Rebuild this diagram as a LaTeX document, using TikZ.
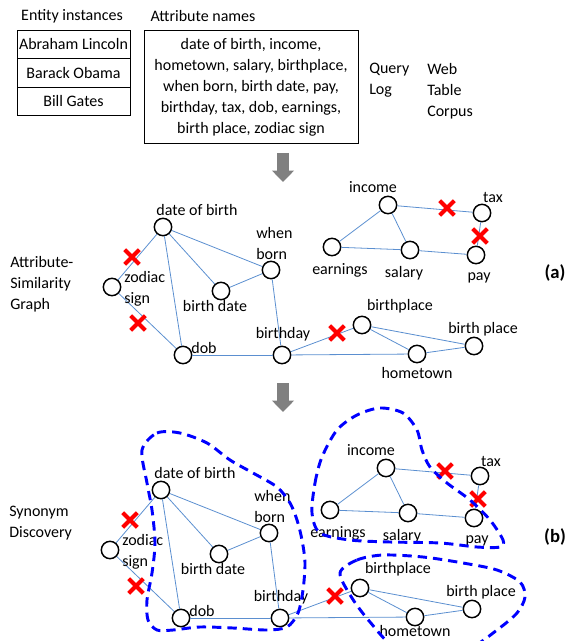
\documentclass[tikz,border=0pt]{standalone}
\usepackage{fontspec}
\setmainfont{Carlito}
\usetikzlibrary{shapes.misc,arrows.meta}
\definecolor{edgeblue}{RGB}{91,143,208}
\definecolor{arrowgray}{RGB}{128,128,128}
\begin{document}
\begin{tikzpicture}[x=0.75pt,y=-0.75pt,
  every node/.style={font=\fontsize{12}{15.75}\selectfont,inner sep=0pt},
  vtx/.style={circle,draw,fill=white,line width=1.1pt,minimum size=13pt},
  edge/.style={edgeblue,line width=0.6pt},
  xmark/.style={cross out,draw=red,line width=3pt,minimum size=8pt},
  group/.style={blue,line width=2.2pt,dash pattern=on 7pt off 4.5pt},
  bigarrow/.style={arrowgray,line width=9.5pt,-{Triangle[width=16pt,length=8.5pt]}},
  cell/.style={draw,line width=0.75pt,minimum width=84.75pt,minimum height=21.4pt}]
\clip (0,0) rectangle (571,641);
% Sources
\node (enttitle) at (72,16) {Entity instances};
\node[cell] (lincoln) at (73.5,44.5) {Abraham Lincoln};
\node[cell] (obama) at (73.5,73) {Barack Obama};
\node[cell] (gates) at (73.5,101.5) {Bill Gates};
\node (attrtitle) at (203,16) {Attribute names};
\node[draw,line width=0.75pt,minimum width=160.5pt,minimum height=84.75pt,align=center] (attrbox) at (251,87.5)
  {date of birth, income,\\hometown, salary, birthplace,\\when born, birth date, pay,\\birthday, tax, dob, earnings,\\birth place, zodiac sign};
\node[align=left,anchor=west] (querylog) at (369,80.5) {Query\\Log};
\node[align=left,anchor=west] (webcorpus) at (427,91) {Web\\Table\\Corpus};
% Steps
\coordinate (down1s) at (283,153);
\coordinate (down1e) at (283,182);
\draw[bigarrow] (down1s) -- (down1e);
\coordinate (down2s) at (283,383);
\coordinate (down2e) at (283,412);
\draw[bigarrow] (down2s) -- (down2e);
\node[align=left,anchor=west] (asgraph) at (10,284) {Attribute-\\Similarity\\Graph};
\node[align=left,anchor=west] (syndisc) at (9,523) {Synonym\\Discovery};
\node[font=\fontsize{14}{16}\selectfont\bfseries] (labela) at (555,273) {(a)};
\node[font=\fontsize{14}{16}\selectfont\bfseries] (labelb) at (555,537) {(b)};
% Graphs
\foreach \p/\dx/\dy/\hy in {a/0/0/0, b/-2/263/-5} {
\begin{scope}[shift={(\dx,\dy)}]
  \node[vtx] (\p-dateofbirth) at (163,227) {};
  \node[vtx] (\p-whenborn) at (271,270) {};
  \node[vtx] (\p-zodiac) at (112,287) {};
  \node[vtx] (\p-birthdate) at (221,291) {};
  \node[vtx] (\p-dob) at (183,355) {};
  \node[vtx] (\p-birthday) at (282,355) {};
  \node[vtx] (\p-income) at (388,205) {};
  \node[vtx] (\p-tax) at (482,213) {};
  \node[vtx] (\p-earnings) at (332,247) {};
  \node[vtx] (\p-salary) at (410,250) {};
  \node[vtx] (\p-pay) at (476,255) {};
  \node[vtx] (\p-birthplace) at (362,325) {};
  \node[vtx] (\p-bplace) at (474,346) {};
  \node[vtx] (\p-hometown) at (417,354) {};
  \foreach \u/\v in {dateofbirth/zodiac, zodiac/dob, dateofbirth/dob, dateofbirth/birthdate,
      dateofbirth/whenborn, birthdate/whenborn, whenborn/birthday, dob/birthday,
      birthday/birthplace, birthday/hometown, birthplace/hometown, birthplace/bplace,
      hometown/bplace, income/earnings, income/salary, income/tax, earnings/salary,
      salary/pay, tax/pay}
    \draw[edge] (\p-\u) -- (\p-\v);
  \node (\p-dateofbirthtxt) at (197,210) {date of birth};
  \node[align=left,anchor=west] (\p-whenborntxt) at (256,243) {when\\born};
  \node[align=left,anchor=west] (\p-zodiactxt) at (124,289) {zodiac\\sign};
  \node (\p-birthdatetxt) at (215,306) {birth date};
  \node (\p-dobtxt) at (204,348) {dob};
  \node (\p-birthdaytxt) at (283,334) {birthday};
  \node (\p-incometxt) at (373,187) {income};
  \node (\p-taxtxt) at (493,198) {tax};
  \node (\p-earningstxt) at (340,270) {earnings};
  \node (\p-salarytxt) at (404,273) {salary};
  \node (\p-paytxt) at (479,278) {pay};
  \node (\p-birthplacetxt) at (400,306) {birthplace};
  \node (\p-bplacetxt) at (483,329) {birth place};
  \node (\p-hometowntxt) at (417,373+\hy) {hometown};
  \node[xmark] (\p-cut1) at (132,257) {};
  \node[xmark] (\p-cut2) at (138,323) {};
  \node[xmark] (\p-cut3) at (447,208) {};
  \node[xmark] (\p-cut4) at (480,236) {};
  \node[xmark] (\p-cut5) at (337,333) {};
\end{scope}
}
% Synonym groups
\draw[group] plot[smooth cycle] coordinates {(142,450) (157,433) (180,433) (207,443) (230,460)
  (253,473) (277,487) (290,503) (297,520) (302,540) (305,563) (303,590) (298,613) (287,627)
  (267,630) (233,628) (200,627) (173,630) (157,630) (148,620) (147,600) (152,573) (155,543)
  (152,510) (147,483)};
\draw[group] plot[smooth cycle] coordinates {(312,513) (315,483) (322,457) (337,430) (357,415)
  (380,408) (403,413) (417,430) (422,450) (430,467) (447,483) (470,500) (490,520) (503,540)
  (500,547) (477,547) (440,543) (390,542) (350,540) (320,533)};
\draw[group] plot[smooth cycle] coordinates {(340,573) (357,560) (383,555) (423,557) (463,563)
  (497,570) (520,582) (525,597) (517,613) (497,630) (470,648) (430,656) (395,648) (370,622)
  (352,598)};
\end{tikzpicture}
\end{document}
